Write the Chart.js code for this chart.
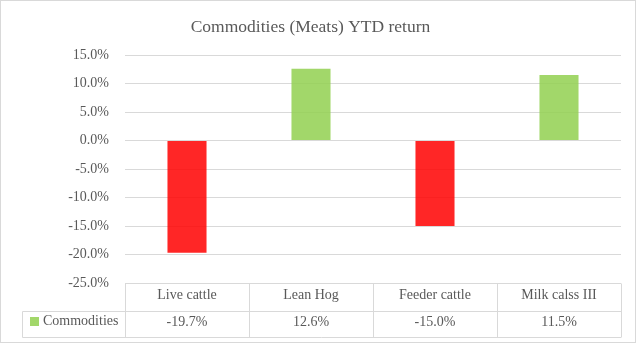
<!DOCTYPE html>
<html>
<head>
<meta charset="utf-8">
<script src="https://cdn.jsdelivr.net/npm/chart.js@4/dist/chart.umd.min.js"></script>
<style>
  html, body { margin: 0; padding: 0; background: #fff; }
  #wrap { width: 637px; height: 344px; position: relative; }
</style>
</head>
<body>
<div id="wrap"><canvas id="c" width="637" height="344"></canvas></div>
<script>
const chartTitle = 'Commodities (Meats) YTD return';
const categories = ['Live cattle', 'Lean Hog', 'Feeder cattle', 'Milk calss III'];
const seriesName = 'Commodities';
const returns = [-19.7, 12.6, -15.0, 11.5];
const yTicks = [15, 10, 5, 0, -5, -10, -15, -20, -25];

const FONT = '"Liberation Serif", "DejaVu Serif", serif';
const TEXT = '#595959';
const GRID = '#d9d9d9';
const RED = 'rgba(255,0,0,0.85)';
const GREEN = 'rgba(146,208,80,0.85)';

const tablePlugin = {
  id: 'dataTable',
  afterDraw(chart) {
    const ctx = chart.ctx;
    const x = chart.scales.x;
    const area = chart.chartArea;
    const top = area.bottom;
    const mid = top + 28;
    const bot = top + 54;
    const n = categories.length;
    const left = area.left, right = area.right;
    const cw = (right - left) / n;
    const legLeft = 22.5;
    ctx.save();
    ctx.strokeStyle = GRID;
    ctx.lineWidth = 1;
    ctx.beginPath();
    ctx.moveTo(left, Math.round(top) + 0.5); ctx.lineTo(right, Math.round(top) + 0.5);
    ctx.moveTo(legLeft, Math.round(mid) + 0.5); ctx.lineTo(right, Math.round(mid) + 0.5);
    ctx.moveTo(legLeft, Math.round(bot) + 0.5); ctx.lineTo(right, Math.round(bot) + 0.5);
    for (let i = 0; i <= n; i++) {
      const px = Math.round(left + i * cw) + 0.5;
      ctx.moveTo(px, Math.round(top) + 0.5); ctx.lineTo(px, Math.round(bot) + 0.5);
    }
    ctx.moveTo(legLeft, Math.round(mid) + 0.5); ctx.lineTo(legLeft, Math.round(bot) + 0.5);
    ctx.stroke();

    ctx.fillStyle = TEXT;
    ctx.font = '14px ' + FONT;
    ctx.textAlign = 'center';
    ctx.textBaseline = 'middle';
    const ds = chart.data.datasets[0];
    ds.data.forEach((v, i) => {
      const px = x.getPixelForValue(i);
      ctx.fillText(v.toFixed(1) + '%', px, (mid + bot) / 2 - 2);
    });
    ctx.fillStyle = GREEN;
    ctx.fillRect(30, 317, 9, 9);
    ctx.fillStyle = TEXT;
    ctx.textAlign = 'left';
    ctx.fillText(ds.label, 43, (mid + bot) / 2 - 3);

    ctx.strokeStyle = GRID;
    ctx.strokeRect(0.5, 0.5, 635, 342);
    ctx.restore();
  }
};

new Chart(document.getElementById('c'), {
  type: 'bar',
  data: {
    labels: categories,
    datasets: [{
      label: seriesName,
      data: returns,
      backgroundColor: (c) => (c.raw < 0 ? RED : GREEN),
      borderWidth: 0,
      categoryPercentage: 1,
      barPercentage: 0.315
    }]
  },
  options: {
    responsive: false,
    animation: false,
    layout: { padding: { left: 0, right: 16, top: 0, bottom: 0 } },
    plugins: {
      legend: { display: false },
      tooltip: { enabled: false },
      title: {
        display: true,
        text: chartTitle,
        color: TEXT,
        font: { family: FONT, size: 17.5, weight: 'normal' },
        padding: { top: 17, bottom: 17 }
      }
    },
    scales: {
      x: {
        grid: { display: false, drawTicks: false },
        border: { display: false },
        ticks: { color: TEXT, font: { family: FONT, size: 14 }, padding: 4, maxRotation: 0 },
        afterFit: (s) => { s.height = 61; }
      },
      y: {
        min: -25,
        max: 15,
        afterBuildTicks: (s) => { s.ticks = yTicks.map(v => ({ value: v })); },
        grid: { color: GRID, drawTicks: false },
        border: { display: false },
        ticks: {
          color: TEXT,
          font: { family: FONT, size: 14 },
          padding: 16,
          callback: (v) => v.toFixed(1) + '%'
        },
        afterFit: (s) => { s.width = 125; }
      }
    }
  },
  plugins: [tablePlugin]
});
</script>
</body>
</html>
